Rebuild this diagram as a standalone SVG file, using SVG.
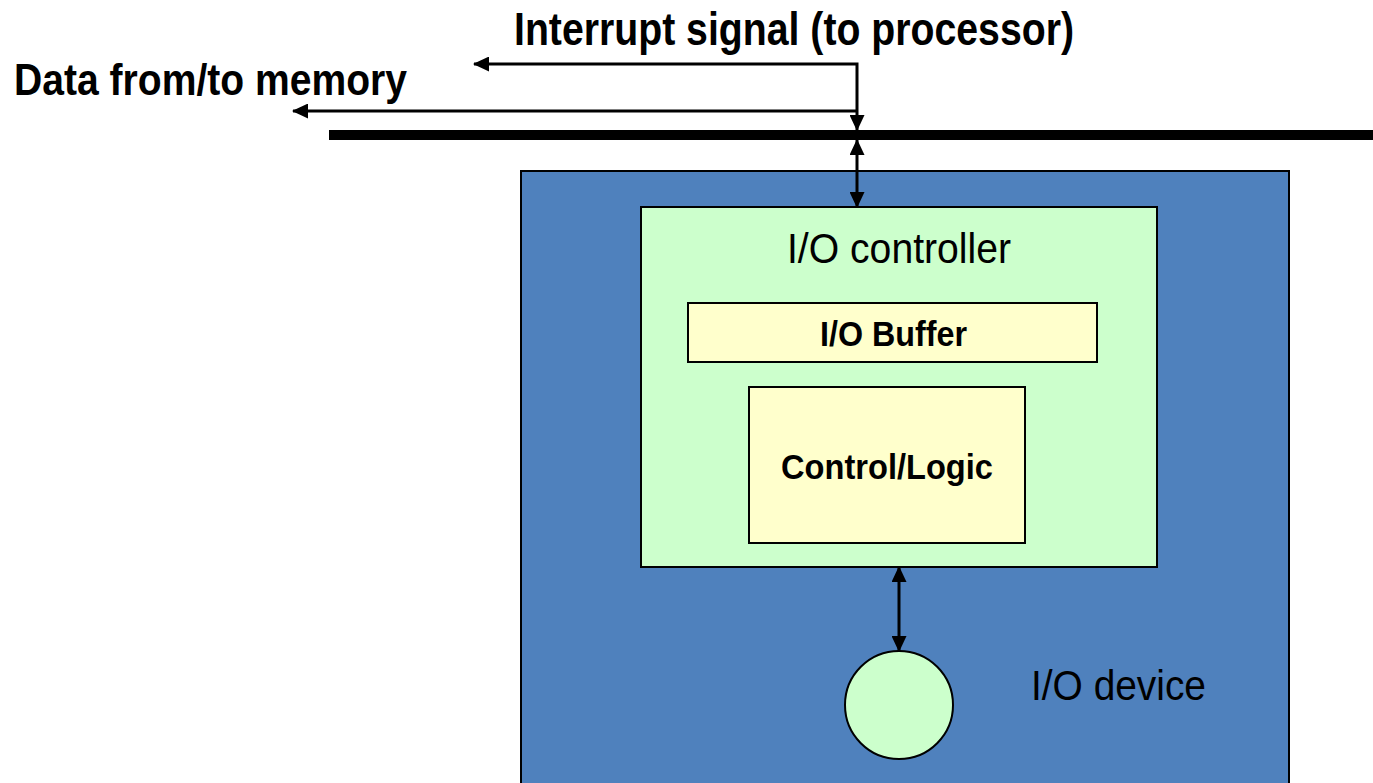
<svg xmlns="http://www.w3.org/2000/svg" width="1373" height="783" viewBox="0 0 1373 783">
<style>
.b{font-family:"Liberation Sans",Arial,sans-serif;font-weight:bold;fill:#000}
.r{font-family:"Liberation Sans",Arial,sans-serif;fill:#000}
.ln{stroke:#000;stroke-width:3;fill:none}
</style>
<defs>
<marker id="ahL" markerWidth="16" markerHeight="15" refX="15" refY="7.5" orient="auto-start-reverse" markerUnits="userSpaceOnUse" viewBox="0 0 16 15">
<path d="M0,0 L16,7.5 L0,15 z" fill="#000"/>
</marker>
</defs>
<rect width="1373" height="783" fill="#fff"/>
<g id="device">
<rect x="521" y="171" width="768" height="620" fill="#4F81BD" stroke="#000" stroke-width="2"/>
<text class="r" x="1031" y="700" font-size="42" textLength="175" lengthAdjust="spacingAndGlyphs">I/O device</text>
</g>
<g id="controller">
<rect x="641" y="207" width="516" height="360" fill="#CCFFCC" stroke="#000" stroke-width="2"/>
<text class="r" x="787" y="263" font-size="42" textLength="224" lengthAdjust="spacingAndGlyphs">I/O controller</text>
</g>
<g id="buffer">
<rect x="688" y="303" width="409" height="59" fill="#FFFFCC" stroke="#000" stroke-width="2"/>
<text class="b" x="820" y="346" font-size="35" textLength="147" lengthAdjust="spacingAndGlyphs">I/O Buffer</text>
</g>
<g id="logic">
<rect x="749" y="387" width="276" height="156" fill="#FFFFCC" stroke="#000" stroke-width="2"/>
<text class="b" x="781" y="479" font-size="35" textLength="212" lengthAdjust="spacingAndGlyphs">Control/Logic</text>
</g>
<g id="disk">
<circle cx="899" cy="705" r="54" fill="#CCFFCC" stroke="#000" stroke-width="2"/>
</g>
<g id="bus">
<rect x="329" y="130" width="1044" height="10" fill="#000"/>
</g>
<g id="labels">
<text class="b" x="514" y="45" font-size="46" textLength="560" lengthAdjust="spacingAndGlyphs">Interrupt signal (to processor)</text>
<text class="b" x="14" y="95" font-size="44" textLength="393" lengthAdjust="spacingAndGlyphs">Data from/to memory</text>
</g>
<g id="connectors">
<polyline class="ln" points="857,130 857,64 474,64" marker-start="url(#ahL)" marker-end="url(#ahL)"/>
<line class="ln" x1="857" y1="111" x2="293" y2="111" marker-end="url(#ahL)"/>
<line class="ln" x1="857" y1="140" x2="857" y2="207" marker-start="url(#ahL)" marker-end="url(#ahL)"/>
<line class="ln" x1="899" y1="567" x2="899" y2="651" marker-start="url(#ahL)" marker-end="url(#ahL)"/>
</g>
</svg>
